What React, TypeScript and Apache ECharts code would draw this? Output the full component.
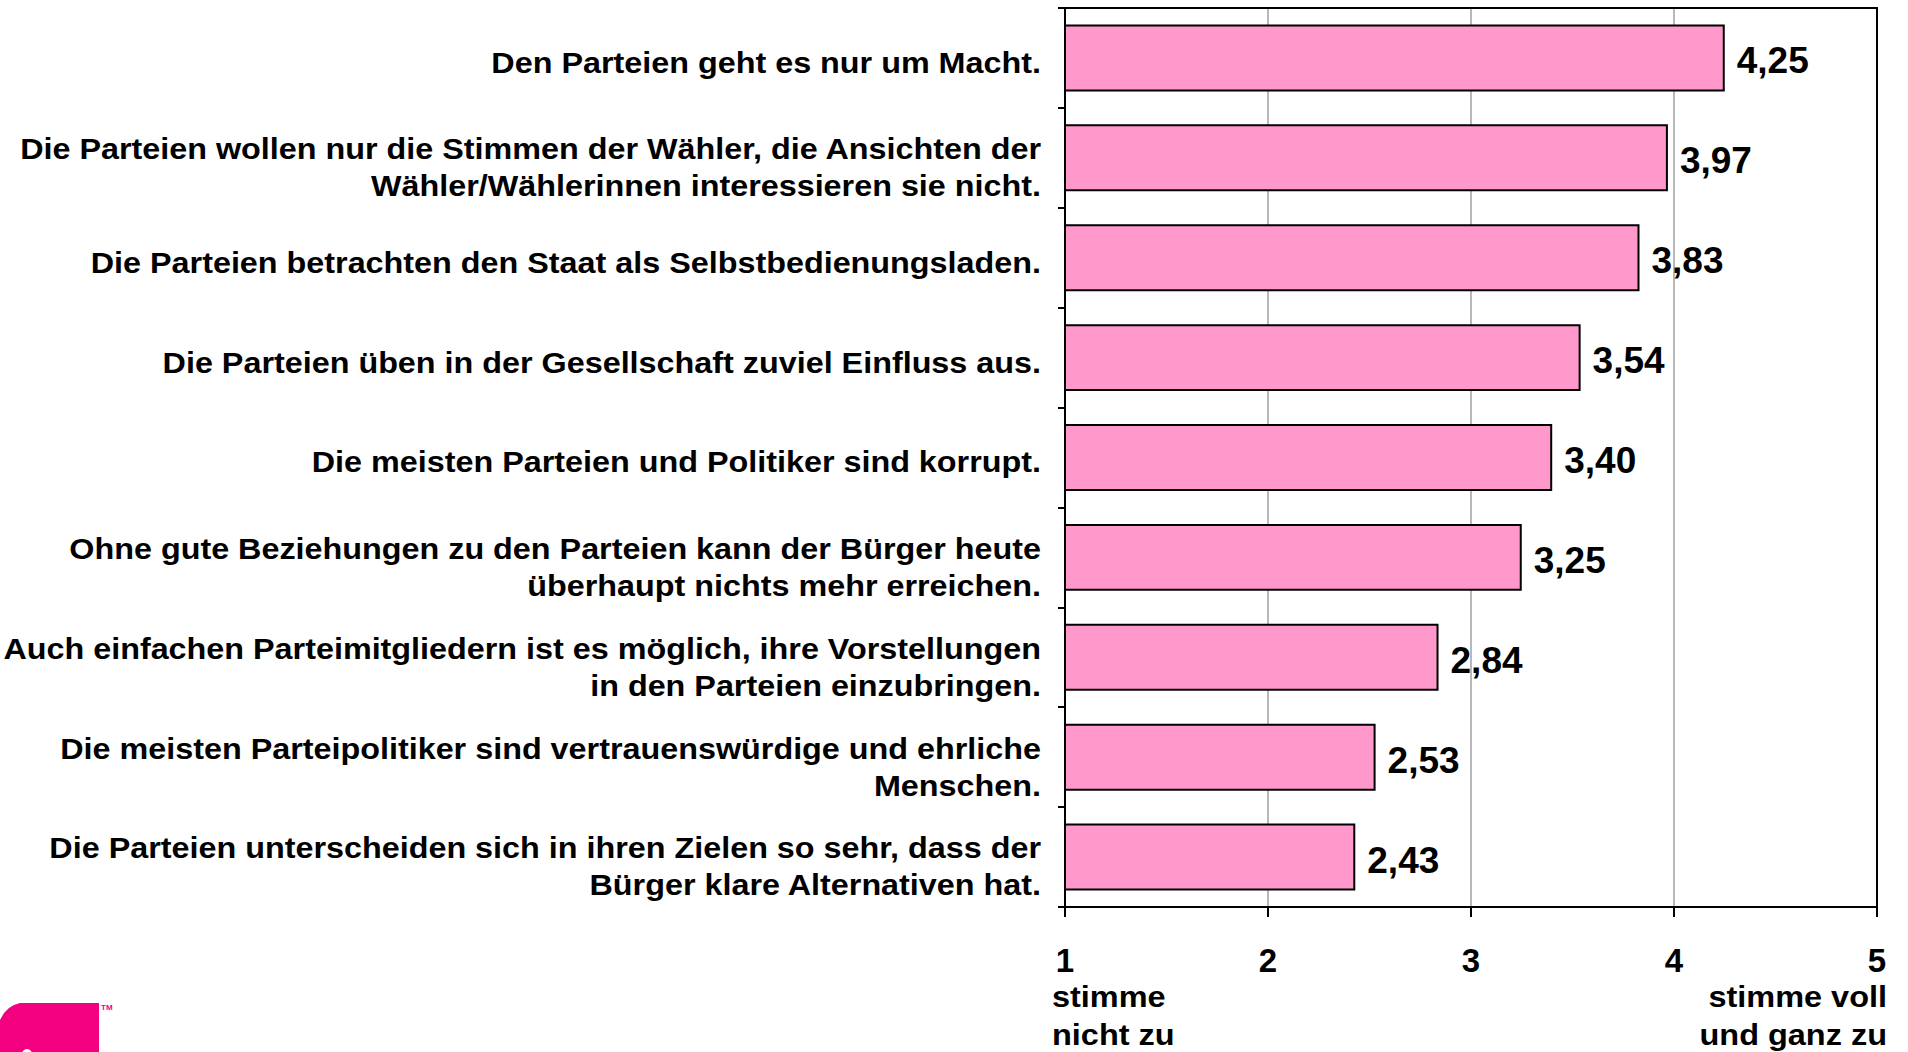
import React, { useEffect, useRef } from 'react';
import * as echarts from 'echarts';

const categories = [
  'Den Parteien geht es nur um Macht.',
  'Die Parteien wollen nur die Stimmen der Wähler, die Ansichten der\nWähler/Wählerinnen interessieren sie nicht.',
  'Die Parteien betrachten den Staat als Selbstbedienungsladen.',
  'Die Parteien üben in der Gesellschaft zuviel Einfluss aus.',
  'Die meisten Parteien und Politiker sind korrupt.',
  'Ohne gute Beziehungen zu den Parteien kann der Bürger heute\nüberhaupt nichts mehr erreichen.',
  'Auch einfachen Parteimitgliedern ist es möglich, ihre Vorstellungen\nin den Parteien einzubringen.',
  'Die meisten Parteipolitiker sind vertrauenswürdige und ehrliche\nMenschen.',
  'Die Parteien unterscheiden sich in ihren Zielen so sehr, dass der\nBürger klare Alternativen hat.',
];
const values = [4.25, 3.97, 3.83, 3.54, 3.4, 3.25, 2.84, 2.53, 2.43];
const scaleMin = 1;
const scaleMax = 5;
const lowLabel = 'stimme\nnicht zu';
const highLabel = 'stimme voll\nund ganz zu';

const FONT = '"Liberation Sans", Arial, Helvetica, sans-serif';
const MAGENTA = '#F2007F';

export default function App() {
  const ref = useRef<HTMLDivElement>(null);
  useEffect(() => {
    document.body.style.margin = '0';
    const chart = echarts.init(ref.current!, null, { renderer: 'svg' });
    chart.setOption({
      animation: false,
      backgroundColor: '#ffffff',
      textStyle: { fontFamily: FONT },
      grid: { left: 1065, right: 31, top: 8, bottom: 145, containLabel: false, outerBoundsMode: 'none' },
      xAxis: [
        {
          type: 'value', min: scaleMin, max: scaleMax, interval: 1, position: 'bottom',
          axisLine: { show: true, onZero: false, lineStyle: { color: '#000', width: 2 } },
          axisTick: { show: true, length: 10, lineStyle: { color: '#000', width: 2 } },
          axisLabel: { margin: 37, fontSize: 33, fontWeight: 'bold', color: '#000', fontFamily: FONT },
          splitLine: { show: true, lineStyle: { color: '#a0a0a0', width: 1.5 } },
        },
        {
          type: 'value', min: scaleMin, max: scaleMax, interval: 1, position: 'top',
          axisLine: { show: true, onZero: false, lineStyle: { color: '#000', width: 2 } },
          axisTick: { show: false }, axisLabel: { show: false }, splitLine: { show: false },
        },
      ],
      yAxis: [
        {
          type: 'category', data: categories, inverse: true,
          axisLine: { show: true, onZero: false, lineStyle: { color: '#000', width: 2 } },
          axisTick: { show: true, length: 7, lineStyle: { color: '#000', width: 2 } },
          axisLabel: { show: false },
        },
        {
          type: 'category', data: categories, inverse: true, position: 'right',
          axisLine: { show: true, onZero: false, lineStyle: { color: '#000', width: 2 } },
          axisTick: { show: false }, axisLabel: { show: false },
        },
      ],
      series: [
        {
          type: 'bar', data: values, xAxisIndex: 0, yAxisIndex: 0,
          barCategoryGap: '33%',
          itemStyle: { color: '#FF99CC', borderColor: '#000', borderWidth: 2 },
          label: {
            show: true, position: 'right', distance: 12, fontSize: 37, fontWeight: 'bold',
            color: '#000', fontFamily: FONT, offset: [0, 3],
            formatter: (p: any) => Number(p.value).toFixed(2).replace('.', ','),
          },
        },
      ],
    });

    const labelEls = categories.map((c, i) => {
      const y = chart.convertToPixel({ yAxisIndex: 0 }, i) as number;
      const multi = c.indexOf('\n') >= 0;
      return {
        type: 'text', x: 1041, y: y + (multi ? 10 : 5), scaleX: 1.115,
        style: {
          text: c, fontSize: 29, fontWeight: 'bold', fontFamily: FONT, fill: '#000',
          lineHeight: 37, align: 'right', verticalAlign: 'middle',
        },
      };
    });

    chart.setOption({
      graphic: [
        ...labelEls,
        {
          type: 'text', x: 1052, y: 978, scaleX: 1.12,
          style: { text: lowLabel, fontSize: 29, fontWeight: 'bold', fontFamily: FONT, fill: '#000', lineHeight: 38, align: 'left', verticalAlign: 'top' },
        },
        {
          type: 'text', x: 1887, y: 978, scaleX: 1.12,
          style: { text: highLabel, fontSize: 29, fontWeight: 'bold', fontFamily: FONT, fill: '#000', lineHeight: 38, align: 'right', verticalAlign: 'top' },
        },
        {
          type: 'polygon',
          shape: { points: [[0, 1020], [4, 1013], [9, 1008], [14, 1005], [20, 1003], [99, 1003], [99, 1052], [0, 1052]] },
          style: { fill: MAGENTA },
        },
        { type: 'circle', shape: { cx: 27, cy: 1054, r: 5 }, style: { fill: '#fff' } },
        {
          type: 'text', x: 101, y: 1003,
          style: { text: 'TM', fontSize: 8, fontWeight: 'bold', fontFamily: FONT, fill: MAGENTA, align: 'left', verticalAlign: 'top' },
        },
      ],
    });
    return () => chart.dispose();
  }, []);
  return (
    <div
      ref={ref}
      style={{ width: 1908, height: 1052, position: 'absolute', left: 0, top: 0, background: '#fff' }}
    />
  );
}
